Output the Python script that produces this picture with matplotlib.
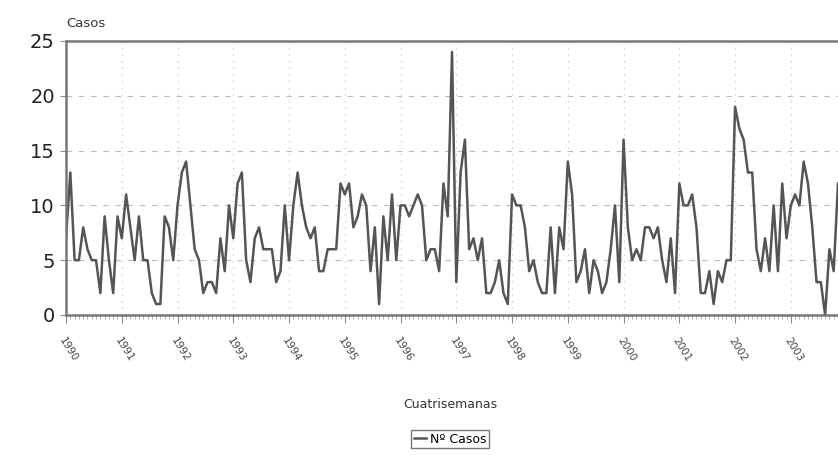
import numpy as np
import matplotlib.pyplot as plt

# casos por cuatrisemana (13 por año), 1990 - 2003
casos = [7, 13, 5, 5, 8, 6, 5, 5, 2, 9, 5, 2, 9,
         7, 11, 8, 5, 9, 5, 5, 2, 1, 1, 9, 8, 5,
         10, 13, 14, 10, 6, 5, 2, 3, 3, 2, 7, 4, 10,
         7, 12, 13, 5, 3, 7, 8, 6, 6, 6, 3, 4, 10,
         5, 10, 13, 10, 8, 7, 8, 4, 4, 6, 6, 6, 12,
         11, 12, 8, 9, 11, 10, 4, 8, 1, 9, 5, 11, 5,
         10, 10, 9, 10, 11, 10, 5, 6, 6, 4, 12, 9, 24,
         3, 13, 16, 6, 7, 5, 7, 2, 2, 3, 5, 2, 1,
         11, 10, 10, 8, 4, 5, 3, 2, 2, 8, 2, 8, 6,
         14, 11, 3, 4, 6, 2, 5, 4, 2, 3, 6, 10, 3,
         16, 8, 5, 6, 5, 8, 8, 7, 8, 5, 3, 7, 2,
         12, 10, 10, 11, 8, 2, 2, 4, 1, 4, 3, 5, 5,
         19, 17, 16, 13, 13, 6, 4, 7, 4, 10, 4, 12, 7,
         10, 11, 10, 14, 12, 8, 3, 3, 0, 6, 4, 12]
years = list(range(1990, 2004))
yticks = [0, 5, 10, 15, 20, 25]

x = np.arange(len(casos))
year_pos = [13 * i for i in range(len(years))]

fig = plt.figure(figsize=(8.38, 4.55), dpi=100)
ax = fig.add_axes([0.0788, 0.3077, 0.9212, 0.6022])

ax.plot(x, casos, color='#555555', lw=1.8, label='Nº Casos')

ax.set_xlim(0, 180)
ax.set_ylim(0, 25)
ax.set_yticks(yticks)
ax.set_yticklabels([str(v) for v in yticks], fontsize=14, color='#222222')
ax.set_xticks(year_pos)
ax.set_xticklabels([str(y) for y in years], rotation=-58, ha='left', va='top',
                   fontsize=7.5, color='#444444', rotation_mode='anchor')
ax.set_xticks(x, minor=True)
ax.tick_params(axis='x', which='major', length=6, color='#888888', pad=9)
ax.tick_params(axis='x', which='minor', length=3, color='#aaaaaa')
ax.tick_params(axis='y', length=4, color='#888888', pad=4)

for yv in yticks[1:-1]:
    ax.axhline(yv, color='#bbbbbb', lw=0.8, ls=(0, (5, 6)), zorder=0)
for xv in year_pos[1:]:
    ax.axvline(xv, color='#bbbbbb', lw=0.8, ls=(0, (1, 5)), zorder=0)

for side in ['top', 'left', 'bottom']:
    ax.spines[side].set_color('#777777')
    ax.spines[side].set_linewidth(1.8)
ax.spines['right'].set_visible(False)

fig.text(0.0788, 0.935, 'Casos', fontsize=9.5, color='#333333', ha='left', va='bottom')
fig.text(0.537, 0.11, 'Cuatrisemanas', fontsize=9, color='#333333', ha='center', va='center')
fig.legend(loc='center', bbox_to_anchor=(0.537, 0.035), fontsize=9, frameon=True,
           fancybox=False, edgecolor='#555555', handlelength=1.0, handletextpad=0.3,
           borderpad=0.2, borderaxespad=0)

fig.savefig('out.png', dpi=100)
